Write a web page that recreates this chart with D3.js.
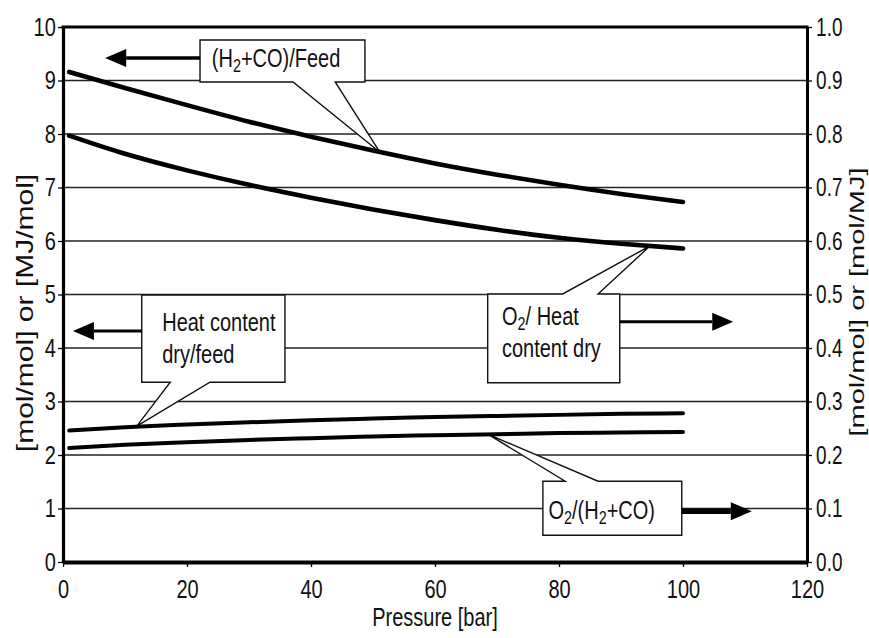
<!DOCTYPE html>
<html><head><meta charset="utf-8">
<script src="https://cdn.jsdelivr.net/npm/d3@7/dist/d3.min.js"></script>
<style>body{margin:0;background:#fff}</style>
</head><body>
<svg id="c" width="869" height="638"></svg>
<script>
// ---------- data ----------
const pressure     = [1, 10, 20, 30, 40, 50, 60, 70, 80, 90, 100];
const h2coFeed     = [9.16, 8.86, 8.54, 8.23, 7.95, 7.69, 7.45, 7.24, 7.05, 6.88, 6.73];      // left axis
const heatDryFeed  = [2.46, 2.52, 2.57, 2.61, 2.65, 2.68, 2.71, 2.73, 2.75, 2.77, 2.78];      // left axis
const o2HeatDry    = [0.797, 0.763, 0.732, 0.705, 0.681, 0.659, 0.639, 0.621, 0.606, 0.595, 0.586]; // right axis
const o2H2co       = [0.213, 0.219, 0.224, 0.228, 0.2315, 0.2345, 0.237, 0.239, 0.241, 0.242, 0.243]; // right axis
const xTicks       = [0, 20, 40, 60, 80, 100, 120];
const leftTicks    = [0, 1, 2, 3, 4, 5, 6, 7, 8, 9, 10];
const rightTicks   = [0, 0.1, 0.2, 0.3, 0.4, 0.5, 0.6, 0.7, 0.8, 0.9, 1.0];
const xTitle       = "Pressure [bar]";
const leftTitle    = "[mol/mol] or [MJ/mol]";
const rightTitle   = "[mol/mol] or [mol/MJ]";

// ---------- setup ----------
const FONT = "'Liberation Sans', Arial, Helvetica, sans-serif";
const FS = 25, SX = 0.8;
const svg = d3.select("#c").style("font-family", FONT);
const x  = d3.scaleLinear().domain([0, 120]).range([63, 807]);
const yL = d3.scaleLinear().domain([0, 10]).range([562, 27]);
const yR = d3.scaleLinear().domain([0, 1]).range([562, 27]);

// gridlines
svg.append("g").selectAll("line").data(leftTicks.filter(d => d > 0 && d < 10)).join("line")
  .attr("x1", x(0)).attr("x2", x(120))
  .attr("y1", d => yL(d)).attr("y2", d => yL(d))
  .attr("stroke", "#222").attr("stroke-width", 1.3);

// top border
svg.append("line").attr("x1", x(0) - 1.5).attr("x2", x(120) + 1.5)
  .attr("y1", yL(10)).attr("y2", yL(10)).attr("stroke", "#000").attr("stroke-width", 3.2);

function styleAxis(g, w) {
  g.select(".domain").attr("stroke", "#000").attr("stroke-width", w);
  g.selectAll(".tick line").attr("stroke", "#000").attr("stroke-width", 1.3);
  g.selectAll(".tick text").attr("font-size", FS).attr("font-family", FONT)
    .attr("fill", "#111").attr("transform", `scale(${SX},1)`);
}

const gL = svg.append("g").attr("transform", `translate(${x(0)},0)`)
  .call(d3.axisLeft(yL).tickValues(leftTicks).tickFormat(d3.format("d"))
    .tickSize(5).tickSizeOuter(0).tickPadding(4));
styleAxis(gL, 3.2);

const gR = svg.append("g").attr("transform", `translate(${x(120)},0)`)
  .call(d3.axisRight(yR).tickValues(rightTicks).tickFormat(d3.format(".1f"))
    .tickSize(5).tickSizeOuter(0).tickPadding(7));
styleAxis(gR, 3);
gR.selectAll(".tick text").attr("transform", "scale(0.76,1)");

const gB = svg.append("g").attr("transform", `translate(0,${yL(0)})`)
  .call(d3.axisBottom(x).tickValues(xTicks).tickFormat(d3.format("d"))
    .tickSize(5).tickSizeOuter(0).tickPadding(13));
styleAxis(gB, 4);

// axis titles
svg.append("text").attr("transform", `translate(${(x(0) + x(120)) / 2},626) scale(${SX},1)`)
  .attr("text-anchor", "middle").attr("font-size", FS).attr("fill", "#111").text(xTitle);
svg.append("text").attr("transform", `translate(33,313) scale(${SX},1) rotate(-90)`)
  .attr("text-anchor", "middle").attr("font-size", 30).attr("fill", "#111").text(leftTitle);
svg.append("text").attr("transform", `translate(864,302) scale(0.72,1) rotate(-90)`)
  .attr("text-anchor", "middle").attr("font-size", 29).attr("fill", "#111").text(rightTitle);

// ---------- callouts (positions in data units, left-axis scale) ----------
const callouts = [
  { box: [22.1, 48.7, 9.757, 8.972], wedgeSide: "bottom", base: [37.1, 43.9], tip: [51.1, 7.66],
    arrow: { dir: "left", v: 9.42, to: 6.8, w: 3.5 },
    text: { p: 24.0, lines: [{ v: 9.25, segs: [["(H"], ["2", 1], ["+CO)/Feed"]] }] } },
  { box: [12.7, 35.8, 4.99, 3.36], wedgeSide: "bottom", base: [17.3, 23.7], tip: [11.9, 2.54],
    arrow: { dir: "left", v: 4.32, to: 1.6, w: 3 },
    text: { p: 16.0, lines: [{ v: 4.32, segs: [["Heat content"]] }, { v: 3.72, segs: [["dry/feed"]] }] } },
  { box: [68.5, 89.8, 5.01, 3.35], wedgeSide: "top", base: [80.6, 86.3], tip: [94.7, 5.91],
    arrow: { dir: "right", v: 4.49, to: 108.1, w: 3 },
    text: { p: 70.8, lines: [{ v: 4.43, segs: [["O"], ["2", 1], ["/ Heat"]] }, { v: 3.83, segs: [["content dry"]] }] } },
  { box: [77.4, 99.8, 1.51, 0.50], wedgeSide: "top", base: [81.0, 86.3], tip: [68.5, 2.39],
    arrow: { dir: "right", v: 0.95, to: 111.1, w: 5.5 },
    text: { p: 78.3, lines: [{ v: 0.80, segs: [["O"], ["2", 1], ["/(H"], ["2", 1], ["+CO)"]] }] } }
];

const gC = svg.append("g");
callouts.forEach(c => {
  const [p1, p2, vt, vb] = c.box;
  const X1 = x(p1), X2 = x(p2), YT = yL(vt), YB = yL(vb);
  const B1 = x(c.base[0]), B2 = x(c.base[1]);
  const TX = x(c.tip[0]), TY = yL(c.tip[1]);
  let pts;
  if (c.wedgeSide === "bottom") {
    pts = [[B2, YB], [X2, YB], [X2, YT], [X1, YT], [X1, YB], [B1, YB], [TX, TY]];
  } else {
    pts = [[B1, YT], [X1, YT], [X1, YB], [X2, YB], [X2, YT], [B2, YT], [TX, TY]];
  }
  gC.append("path").attr("d", d3.line()(pts) + "Z")
    .attr("fill", "#fff").attr("stroke", "#111").attr("stroke-width", 1.4)
    .attr("stroke-linejoin", "miter");
  // arrow
  const a = c.arrow, AY = yL(a.v), AT = x(a.to);
  const hl = 21, hh = 9;
  const start = a.dir === "left" ? X1 : X2;
  const headBase = a.dir === "left" ? AT + hl : AT - hl;
  gC.append("line").attr("x1", start).attr("x2", headBase).attr("y1", AY).attr("y2", AY)
    .attr("stroke", "#000").attr("stroke-width", a.w);
  gC.append("path").attr("d", d3.line()([[AT, AY], [headBase, AY - hh], [headBase, AY + hh]]) + "Z")
    .attr("fill", "#000");
  // text
  c.text.lines.forEach(l => {
    const t = gC.append("text")
      .attr("transform", `translate(${x(c.text.p)},${yL(l.v)}) scale(${SX},1)`)
      .attr("font-size", FS).attr("fill", "#111");
    let sub = false;
    l.segs.forEach(s => {
      const isSub = !!s[1];
      const ts = t.append("tspan").text(s[0]);
      if (isSub) ts.attr("font-size", FS * 0.72).attr("dy", 5);
      else if (sub) ts.attr("dy", -5);
      sub = isSub;
    });
  });
});

// ---------- data lines ----------
const series = [
  { vals: h2coFeed, y: yL, w: 4.6 },
  { vals: o2HeatDry, y: yR, w: 4.6 },
  { vals: heatDryFeed, y: yL, w: 4.0 },
  { vals: o2H2co, y: yR, w: 4.0 }
];
const gD = svg.append("g");
series.forEach(s => {
  const line = d3.line().x((d, i) => x(pressure[i])).y(d => s.y(d)).curve(d3.curveNatural);
  gD.append("path").attr("d", line(s.vals)).attr("fill", "none")
    .attr("stroke", "#000").attr("stroke-width", s.w).attr("stroke-linecap", "round");
});
</script>
</body></html>
